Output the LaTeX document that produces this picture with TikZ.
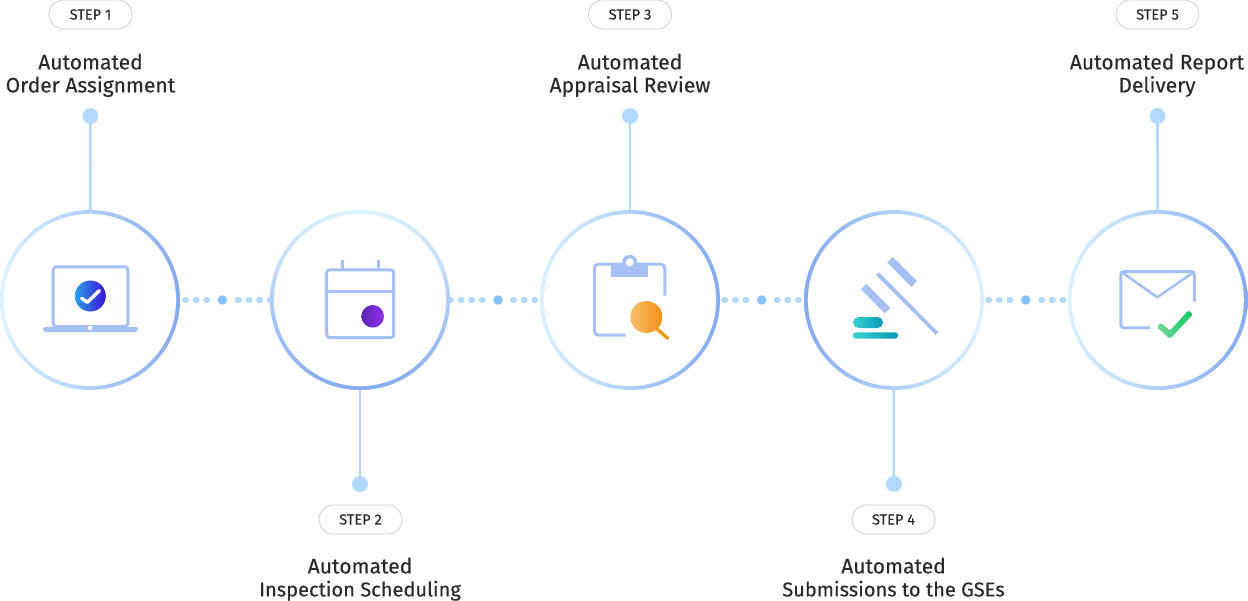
\documentclass[tikz,border=0pt]{standalone}
\usepackage{fontspec}
\setmainfont{Fira Sans}
\newfontfamily\ttlfont[FakeBold=0.22]{Fira Sans}
\newfontfamily\stepfont[FakeBold=0.25]{Fira Sans}
\usetikzlibrary{backgrounds}
\definecolor{ringlight}{HTML}{DCF1FF}
\definecolor{ringdark}{HTML}{85ABF0}
\definecolor{iconblue}{HTML}{A6C0F4}
\definecolor{linkblue}{HTML}{B3D9FF}
\definecolor{hubblue}{HTML}{85C1FF}
\definecolor{inkdark}{HTML}{2B2B2B}
\newcommand{\narrowline}[1]{{\fontsize{20.05}{23}\selectfont #1}}
\tikzset{
  x=1pt,y=-1pt,
  ringbox/.style={circle,minimum size=180pt,inner sep=0pt,outer sep=0pt,
    path picture={\fill[white] (path picture bounding box.center) circle (86.1pt);}},
  pindot/.style={circle,fill=linkblue,minimum size=16pt,inner sep=0pt,outer sep=0pt},
  hubdot/.style={circle,fill=hubblue,minimum size=9.5pt,inner sep=0pt,outer sep=0pt},
  stemline/.style={draw=linkblue,line width=2.6pt},
  dotsline/.style={draw=linkblue,line width=5.2pt,line cap=round,dash pattern=on 1.8pt off 8.8pt},
  steppill/.style={draw=black!17,line width=0.9pt,rounded corners=14.5pt,minimum width=83pt,minimum height=29pt,
    inner sep=0pt,text=inkdark,font=\stepfont\fontsize{14.6}{16}\selectfont},
  titletext/.style={align=center,inner sep=0pt,text=inkdark,font=\ttlfont\fontsize{21}{23}\selectfont,
    execute at begin node=\strut,execute at end node=\strut},
  iconline/.style={draw=iconblue,line width=3pt},
  iconfill/.style={fill=iconblue},
}
\begin{document}
\begin{tikzpicture}
\useasboundingbox (0,0) rectangle (1248,600);

% rings
\node[ringbox,left color=ringlight,right color=ringdark] (ring1) at (90,300) {};
\node[ringbox,top color=ringlight,bottom color=ringdark] (ring2) at (360,300) {};
\node[ringbox,left color=ringlight,right color=ringdark] (ring3) at (630,300) {};
\node[ringbox,left color=ringdark,right color=ringlight] (ring4) at (894,300) {};
\node[ringbox,left color=ringlight,right color=ringdark] (ring5) at (1157.7,300) {};

% pins
\node[pindot] (pin1) at (90.4,116) {};
\node[pindot] (pin2) at (360,484) {};
\node[pindot] (pin3) at (630,116) {};
\node[pindot] (pin4) at (893.8,484) {};
\node[pindot] (pin5) at (1157.5,116) {};

% hubs
\node[hubdot] (hub1) at (222.3,300) {};
\node[hubdot] (hub2) at (498,300) {};
\node[hubdot] (hub3) at (761.7,300) {};
\node[hubdot] (hub4) at (1025.7,300) {};

% pills
\node[steppill] (step1) at (90.5,14.5) {STEP 1};
\node[steppill] (step2) at (360.5,519.5) {STEP 2};
\node[steppill] (step3) at (630,14.5) {STEP 3};
\node[steppill] (step4) at (893.5,519.5) {STEP 4};
\node[steppill] (step5) at (1157.5,14.5) {STEP 5};

% titles
\node[titletext] (title1) at (90.5,76.5) {Automated\\Order Assignment};
\node[titletext] (title2) at (360,580.5) {Automated\\\narrowline{Inspection Scheduling}};
\node[titletext] (title3) at (630,76.5) {Automated\\Appraisal Review};
\node[titletext] (title4) at (893.5,580.5) {Automated\\\narrowline{Submissions to the GSEs}};
\node[titletext] (title5) at (1157,76.5) {Automated Report\\Delivery};

\begin{scope}[on background layer]
  \fill[white] (0,0) rectangle (1248,600);
  \draw[stemline] (ring1) -- (pin1);
  \draw[stemline] (ring2) -- (pin2);
  \draw[stemline] (ring3) -- (pin3);
  \draw[stemline] (ring4) -- (pin4);
  \draw[stemline] (ring5) -- (pin5);
  \draw[dotsline,shorten <=4.6pt,shorten >=5.5pt] (ring1) -- (hub1);
  \draw[dotsline,shorten <=10.4pt] (hub1) -- (ring2);
  \draw[dotsline,shorten <=-0.4pt,shorten >=5.5pt] (ring2) -- (hub2);
  \draw[dotsline,shorten <=9.9pt] (hub2) -- (ring3);
  \draw[dotsline,shorten <=3.8pt,shorten >=5.5pt] (ring3) -- (hub3);
  \draw[dotsline,shorten <=9.9pt] (hub3) -- (ring4);
  \draw[dotsline,shorten <=3.8pt,shorten >=5.5pt] (ring4) -- (hub4);
  \draw[dotsline,shorten <=10.4pt] (hub4) -- (ring5);
\end{scope}

% laptop icon
\draw[iconline,rounded corners=3pt] (53.2,326.5) rectangle (127.8,266.8);
\fill[iconfill,rounded corners=1.5pt] (42.7,327) -- (138.3,327) -- (137.3,332) -- (43.7,332) -- cycle;
\fill[white] (90.3,328) circle (2.3);
\shade[left color={rgb,255:red,42;green,159;blue,232},right color={rgb,255:red,58;green,16;blue,216}] (90.3,296) circle (15.5);
\draw[white,line width=3.5pt,line cap=round,line join=round] (81.7,298.3) -- (87.3,302.3) -- (99.3,290.7);

% calendar icon
\draw[iconline,rounded corners=3pt] (326.7,269.8) rectangle (393.7,337.6);
\draw[iconline] (326.7,291.3) -- (393.7,291.3);
\draw[iconline] (342.3,260) -- (342.3,269.8);
\draw[iconline] (378,260) -- (378,269.8);
\shade[left color={rgb,255:red,88;green,36;blue,176},right color={rgb,255:red,146;green,48;blue,240}] (372.7,316.3) circle (11.3);

% clipboard icon
\draw[iconline,rounded corners=4pt] (625.7,335) -- (594.3,335) -- (594.3,264.2) -- (664.8,264.2) -- (664.8,295.7);
\fill[iconfill] (611.3,264) rectangle (647.7,277);
\fill[iconfill] (629.7,262.3) circle (7.5);
\fill[white] (629.7,262.3) circle (4);
\shade[left color={rgb,255:red,253;green,192;blue,112},right color={rgb,255:red,240;green,144;blue,16}] (646.3,317) circle (16);
\draw[draw={rgb,255:red,240;green,154;blue,26},line width=3.4pt,line cap=round] (657.3,329.3) -- (667.7,338.3);

% gavel icon
\fill[iconfill] (887.3,262.3) -- (892.7,257) -- (917,281) -- (911.3,287) -- cycle;
\fill[iconfill] (861,289.3) -- (866.3,284) -- (890.3,308) -- (884.7,313.3) -- cycle;
\fill[iconfill] (876,275) -- (879,272.3) -- (938.3,332.3) -- (935.7,335) -- cycle;
\shade[left color={rgb,255:red,58;green,208;blue,208},right color={rgb,255:red,8;green,152;blue,184},rounded corners=5.4pt] (853,317) rectangle (883,328);
\shade[left color={rgb,255:red,58;green,208;blue,208},right color={rgb,255:red,8;green,152;blue,184},rounded corners=3pt] (853,332.3) rectangle (898,338.7);

% envelope icon
\draw[iconline,rounded corners=3pt] (1150,327.8) -- (1120.8,327.8) -- (1120.8,271.6) -- (1194.4,271.6) -- (1194.4,301.7);
\draw[iconline,line width=2.6pt,line join=round] (1121.5,272) -- (1157.3,297.3) -- (1193.8,272);
\shade[left color={rgb,255:red,118;green,216;blue,160},right color={rgb,255:red,16;green,200;blue,96},rounded corners=1.6pt]
  (1156.75,327.3) -- (1170,338.8) -- (1192.9,314.35) -- (1188.5,310.25) -- (1170,330.6) -- (1160.65,322.7) -- cycle;
\end{tikzpicture}
\end{document}
